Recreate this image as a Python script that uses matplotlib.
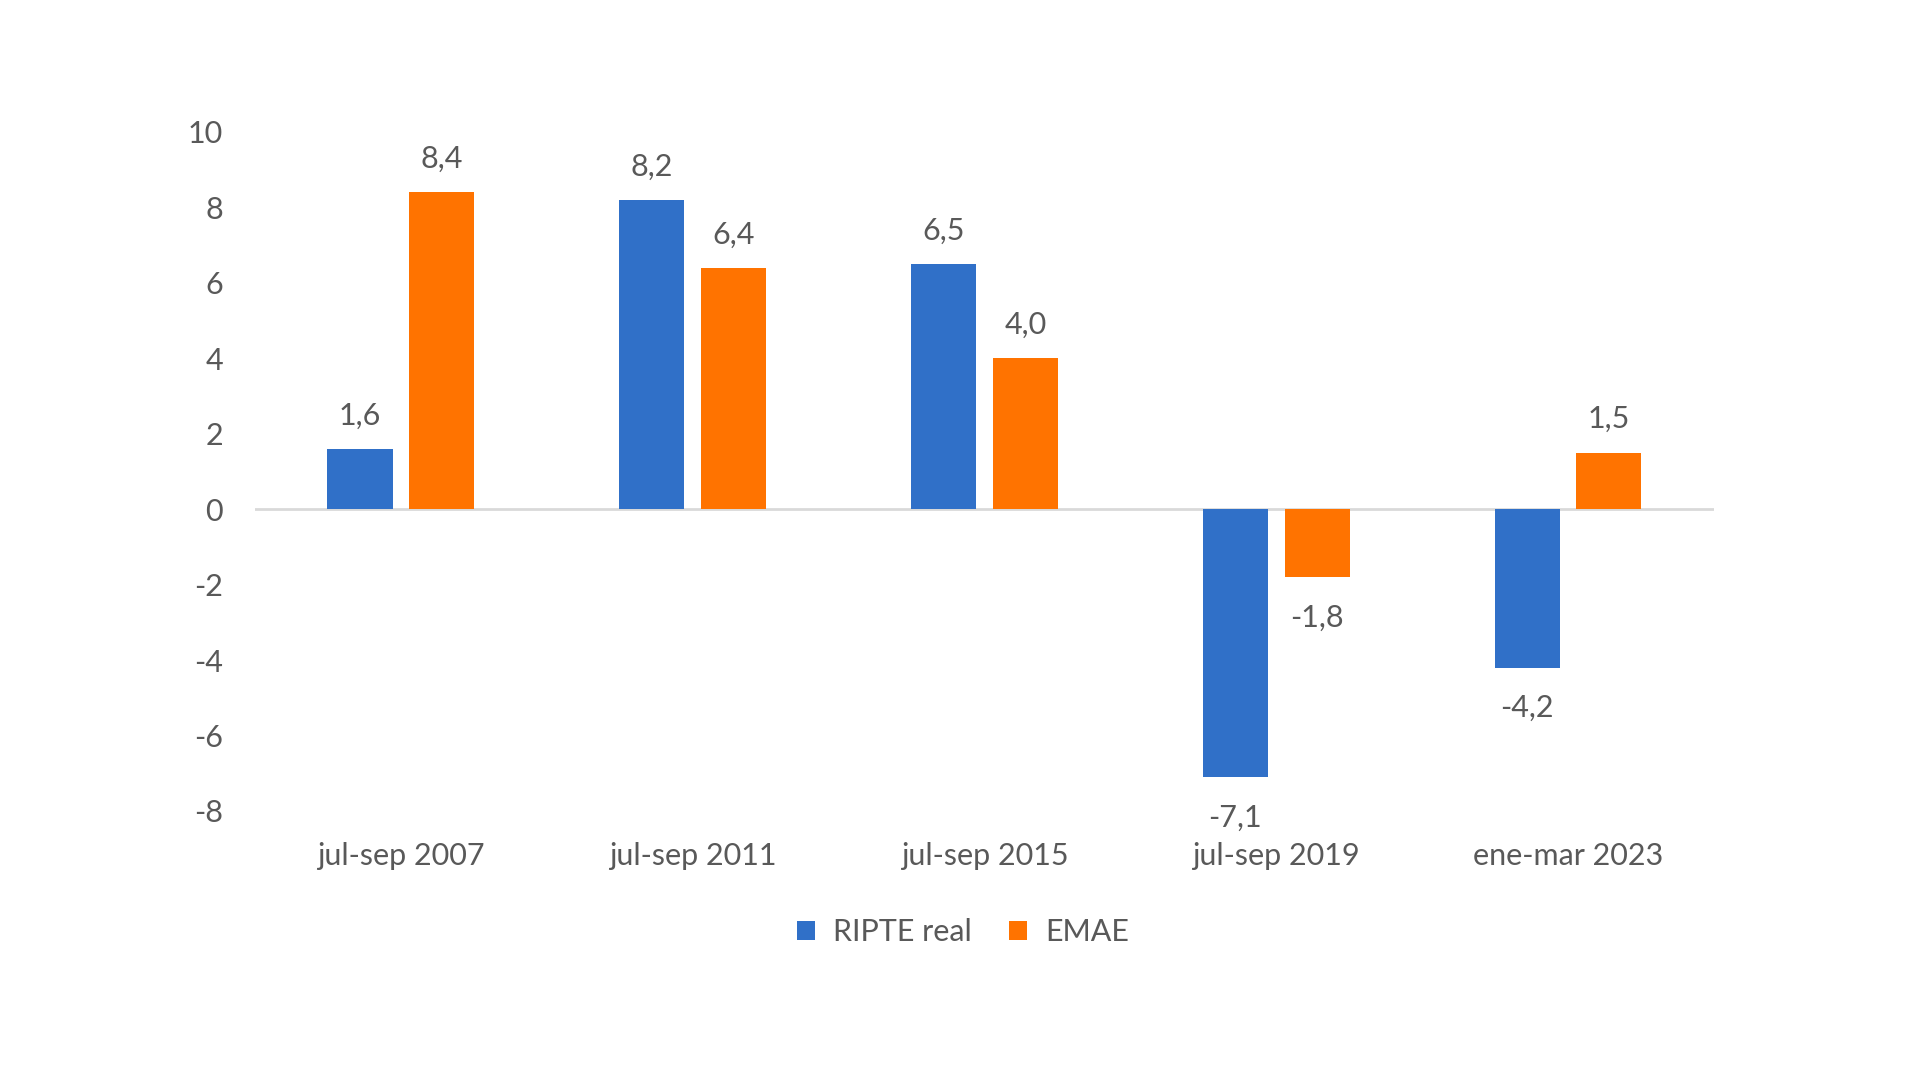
import numpy as np
import matplotlib
matplotlib.use("Agg")
import matplotlib.pyplot as plt

# data
categories = ["jul-sep 2007", "jul-sep 2011", "jul-sep 2015", "jul-sep 2019", "ene-mar 2023"]
ripte_real = [1.6, 8.2, 6.5, -7.1, -4.2]
emae = [8.4, 6.4, 4.0, -1.8, 1.5]

blue = "#3070C8"
orange = "#FF7300"
gray_txt = "#595959"

plt.rcParams['font.family'] = ['Lato', 'DejaVu Sans']
plt.rcParams['axes.unicode_minus'] = False

fig = plt.figure(figsize=(19.2, 10.79), dpi=100)
ax = fig.add_axes([0.1328, 0.2484, 0.7599, 0.6293])

x = np.arange(len(categories))
w = 0.223
off = 0.14
b1 = ax.bar(x - off, ripte_real, w, color=blue, label="RIPTE real", zorder=2)
b2 = ax.bar(x + off, emae, w, color=orange, label="EMAE", zorder=2)

fs = 22

# data labels
for bars, vals in [(b1, ripte_real), (b2, emae)]:
    for rect, v in zip(bars, vals):
        cx = rect.get_x() + rect.get_width() / 2
        txt = f"{v:.1f}".replace(".", ",")
        if v >= 0:
            ax.annotate(txt, (cx, v), xytext=(0, 14), textcoords="offset points",
                        ha="center", va="bottom", fontsize=fs, color=gray_txt)
        else:
            ax.annotate(txt, (cx, v), xytext=(0, -19), textcoords="offset points",
                        ha="center", va="top", fontsize=fs, color=gray_txt)

ax.set_xlim(-0.5, len(categories) - 0.5)
ax.set_ylim(-8, 10)
ax.set_yticks(range(-8, 11, 2))
ax.set_xticks(x)
ax.set_xticklabels(categories)
ax.tick_params(axis="y", length=0, pad=23, labelsize=fs, labelcolor=gray_txt)
ax.tick_params(axis="x", length=0, pad=22, labelsize=fs, labelcolor=gray_txt)

for s in ax.spines.values():
    s.set_visible(False)
ax.axhline(0, color="#D9D9D9", linewidth=2, zorder=1)

fig.legend(handles=[b1, b2], loc="center", bbox_to_anchor=(0.5015, 0.136), ncol=2,
           frameon=False, fontsize=fs, labelcolor=gray_txt, handlelength=0.6,
           handleheight=0.6, handletextpad=0.6, columnspacing=1.2)

fig.savefig("out.png", dpi=100, facecolor="white")
